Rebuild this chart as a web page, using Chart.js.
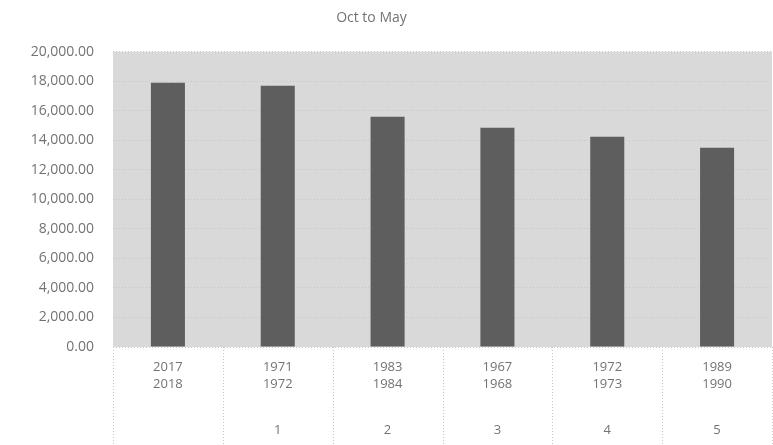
<!DOCTYPE html>
<html>
<head>
<meta charset="utf-8">
<script src="https://cdn.jsdelivr.net/npm/chart.js@4"></script>
<style>
  html, body { margin: 0; padding: 0; background: #fff; }
  #wrap { width: 773px; height: 445px; }
</style>
</head>
<body>
<div id="wrap"><canvas id="myChart" width="773" height="445"></canvas></div>
<script>
// season labels (two lines each) and the rank row underneath
const seasons = [['2017', '2018'], ['1971', '1972'], ['1983', '1984'], ['1967', '1968'], ['1972', '1973'], ['1989', '1990']];
const ranks = ['', '1', '2', '3', '4', '5'];
const totals = [17900, 17700, 15600, 14850, 14250, 13500];
const yTicks = [0, 2000, 4000, 6000, 8000, 10000, 12000, 14000, 16000, 18000, 20000];

const textGray = '#737373';

// grey plot area, dotted column separators below the axis, rank row
const excelLook = {
    id: 'excelLook',
    beforeDraw(chart) {
        const { ctx, chartArea } = chart;
        ctx.save();
        ctx.fillStyle = '#d9d9d9';
        ctx.fillRect(chartArea.left, chartArea.top, chartArea.right - chartArea.left, chartArea.bottom - chartArea.top);
        ctx.restore();
    },
    afterDraw(chart) {
        const { ctx, chartArea } = chart;
        const x = chart.scales.x;
        const half = (x.getPixelForValue(1) - x.getPixelForValue(0)) / 2;
        ctx.save();
        ctx.strokeStyle = '#c8c8c8';
        ctx.lineWidth = 1;
        ctx.setLineDash([1, 2]);
        for (let i = 0; i <= seasons.length; i++) {
            const px = Math.round(x.getPixelForValue(0) - half + i * half * 2) + 0.5;
            ctx.beginPath();
            ctx.moveTo(px, chartArea.bottom);
            ctx.lineTo(px, chart.height);
            ctx.stroke();
        }
        ctx.setLineDash([]);
        ctx.fillStyle = textGray;
        ctx.font = '13px "Open Sans"';
        ctx.textAlign = 'center';
        ctx.textBaseline = 'middle';
        ranks.forEach((r, i) => {
            ctx.fillText(r, x.getPixelForValue(i), 430);
        });
        ctx.restore();
    }
};

const data = {
    labels: seasons,
    datasets: [{
        label: 'Oct to May',
        data: totals,
        backgroundColor: '#5e5e5e',
        barPercentage: 0.31,
        categoryPercentage: 1
    }]
};

const config = {
    type: 'bar',
    data: data,
    options: {
        responsive: false,
        animation: false,
        layout: {
            padding: { left: 0, right: 1, top: 0, bottom: 0 }
        },
        plugins: {
            legend: { display: false },
            tooltip: { enabled: false },
            title: {
                display: true,
                text: 'Oct to May        ',
                color: textGray,
                font: { family: 'Open Sans', size: 14, weight: 'normal' },
                padding: { top: 10, bottom: 25 }
            }
        },
        scales: {
            x: {
                grid: { display: false, drawTicks: false },
                border: { display: false },
                ticks: {
                    color: textGray,
                    font: { family: 'Open Sans', size: 13, lineHeight: 1.3 },
                    padding: 12,
                    maxRotation: 0
                },
                afterFit(scale) { scale.height = 98; }
            },
            y: {
                min: 0,
                max: 20000,
                afterBuildTicks(scale) { scale.ticks = yTicks.map(v => ({ value: v })); },
                grid: {
                    color: '#c6c6c6',
                    drawTicks: false
                },
                border: { display: false, dash: [1, 2] },
                ticks: {
                    color: textGray,
                    font: { family: 'Open Sans', size: 14 },
                    padding: 19,
                    callback: v => v.toLocaleString('en-US', { minimumFractionDigits: 2, maximumFractionDigits: 2 })
                },
                afterFit(scale) { scale.width = 113; }
            }
        }
    },
    plugins: [excelLook]
};

const myChart = new Chart(document.getElementById('myChart'), config);
</script>
</body>
</html>
